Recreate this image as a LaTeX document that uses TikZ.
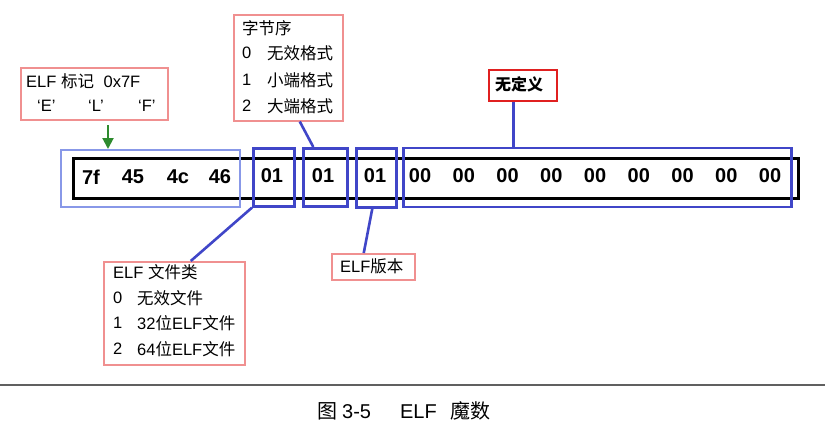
\documentclass[tikz,border=0pt]{standalone}
\usepackage{fontspec}
\setmainfont{Liberation Sans}
\newfontfamily\cjk{Noto Sans CJK SC}
\usetikzlibrary{arrows.meta}
\definecolor{pinkbox}{HTML}{F09090}
\definecolor{redbox}{HTML}{E02020}
\definecolor{bluebox}{HTML}{4046C8}
\definecolor{lightblue}{HTML}{8898E8}
\definecolor{greenarr}{HTML}{2E8B2E}
\definecolor{rulegrey}{HTML}{606060}
\newcommand\zh[1]{{\cjk #1}}
\begin{document}
\begin{tikzpicture}[x=1pt,y=-1pt,
  lbl/.style={anchor=west,inner sep=0pt,font=\fontsize{16.5}{18}\selectfont},
  hex/.style={inner sep=0pt,font=\fontsize{20}{22}\selectfont\bfseries},
  pinkframe/.style={draw=pinkbox,line width=1.5pt},
  fieldbox/.style={draw=bluebox,line width=2.6pt,anchor=north west,inner sep=0pt},
  link/.style={draw=bluebox,line width=2.6pt},
]
\useasboundingbox[fill=white] (0,0) rectangle (825,447);

% main bar
\node[draw=black,line width=2.6pt,anchor=north west,inner sep=0pt,minimum width=725pt,minimum height=40pt] (bar) at (72,157) {};
% light blue frame round magic
\node[draw=lightblue,line width=1.5pt,anchor=north west,inner sep=0pt,minimum width=179pt,minimum height=57pt] (magic) at (60,149) {};
% blue field boxes
\node[fieldbox,minimum width=41pt,minimum height=58pt] (b1) at (252,147) {};
\node[fieldbox,minimum width=44pt,minimum height=58pt] (b2) at (302,147) {};
\node[fieldbox,minimum width=40pt,minimum height=59pt] (b3) at (355,147) {};
\node[fieldbox,minimum width=388pt,minimum height=59pt] (b4) at (402,146.5) {};

% hex bytes
\node[hex] (h0) at (91,177) {7f};
\node[hex] (h1) at (133,177) {45};
\node[hex] (h2) at (178,177) {4c};
\node[hex] (h3) at (220,177) {46};
\node[hex] (h4) at (272,176) {01};
\node[hex] (h5) at (323,176) {01};
\node[hex] (h6) at (375,176) {01};
\foreach \i in {0,...,8} {
  \node[hex] (z\i) at ({420+\i*43.75},176) {00};
}

% ELF mark box
\node[pinkframe,anchor=north west,inner sep=0pt,minimum width=147pt,minimum height=52pt] (mark) at (20,67) {};
\node[lbl] (markt1) at (26,81) {ELF \zh{标记}\hspace{5pt} 0x7F};
\node[lbl] (markq1) at (37,106) {‘E’};
\node[lbl] (markq2) at (88,106) {‘L’};
\node[lbl] (markq3) at (138,106) {‘F’};
\coordinate (arrtip) at (108,149);
\draw[greenarr,line width=2pt,-{Triangle[length=11pt,width=11pt]}] (arrtip |- 0,125) -- (arrtip);

% byte order box
\node[pinkframe,anchor=north west,inner sep=0pt,minimum width=109pt,minimum height=106pt] (order) at (233,14) {};
\node[lbl] (ordt) at (242,28) {\zh{字节序}};
\node[lbl] (ordn0) at (242,53) {0};
\node[lbl] (ordn1) at (242,80) {1};
\node[lbl] (ordn2) at (242,106) {2};
\node[lbl] (ordv0) at (267,53) {\zh{无效格式}};
\node[lbl] (ordv1) at (267,80) {\zh{小端格式}};
\node[lbl] (ordv2) at (267,106) {\zh{大端格式}};
\draw[link] ([xshift=11.5pt]order.south) -- ([xshift=-12pt]b2.north);

% undefined box
\node[draw=redbox,line width=1.5pt,anchor=north west,inner sep=0pt,minimum width=68pt,minimum height=31pt] (undef) at (488,69) {};
\node[inner sep=0pt,font=\fontsize{16}{18}\selectfont\cjk\bfseries] (undeft) at (519,84) {无定义};
\draw[link] ([xshift=-9pt]undef.south) -- ([xshift=-9pt]undef.south |- b4.north);

% ELF class box
\node[pinkframe,anchor=north west,inner sep=0pt,minimum width=141pt,minimum height=103pt] (cls) at (103,261) {};
\node[lbl] (clst) at (113,272) {ELF \zh{文件类}};
\node[lbl] (clsn0) at (113,298) {0};
\node[lbl] (clsn1) at (113,323) {1};
\node[lbl] (clsn2) at (113,349) {2};
\node[lbl] (clsv0) at (137,298) {\zh{无效文件}};
\node[lbl] (clsv1) at (137,323) {32\zh{位}ELF\zh{文件}};
\node[lbl] (clsv2) at (137,349) {64\zh{位}ELF\zh{文件}};
\draw[link] ([xshift=16.5pt]cls.north) -- (b1.south west);

% ELF version box
\node[pinkframe,anchor=north west,inner sep=0pt,minimum width=83pt,minimum height=26pt] (ver) at (331,253) {};
\node[lbl] (vert) at (340,266) {ELF\zh{版本}};
\draw[link] ([xshift=-9.5pt]ver.north) -- ([xshift=-4pt]b3.south);

% rule and caption
\coordinate (ruleL) at (0,385);
\coordinate (ruleR) at (825,385);
\draw[rulegrey,line width=2pt] (ruleL) -- (ruleR);
\node[anchor=west,inner sep=0pt,font=\fontsize{20}{22}\selectfont] (cap) at (317,411) {\zh{图}\hspace{5pt}3-5\hspace{29pt}ELF\hspace{14pt}\zh{魔数}};
\end{tikzpicture}
\end{document}
